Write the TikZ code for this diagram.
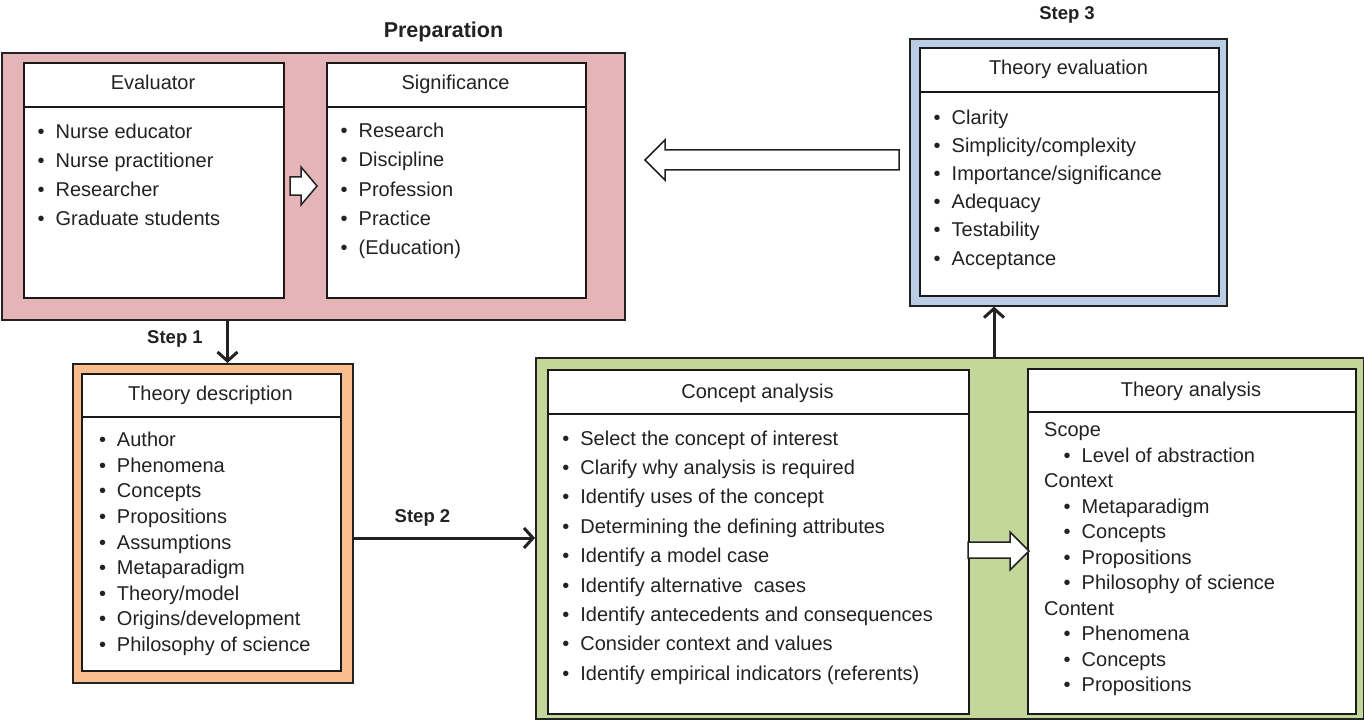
\documentclass[tikz,border=0pt]{standalone}
\usepackage{fontspec}
\setmainfont{Liberation Sans}
\usetikzlibrary{arrows.meta}
\definecolor{pinkbg}{HTML}{E5B4B6}
\definecolor{orangebg}{HTML}{FABD8E}
\definecolor{bluebg}{HTML}{B9CDE5}
\definecolor{greenbg}{HTML}{C4D79B}
\definecolor{ink}{HTML}{222222}
\newcommand{\bl}{\makebox[18pt][l]{\textbullet}}
\begin{document}
\begin{tikzpicture}[x=1pt,y=-1pt,
  outerbox/.style={draw=ink, line width=1.6pt, inner sep=0pt, anchor=north west},
  innerbox/.style={draw=black!90, fill=white, line width=2.4pt, inner sep=0pt, anchor=north west},
  hdr/.style={draw=black!90, line width=2pt},
  txt/.style={font=\fontsize{20}{24}\selectfont, text=ink, inner sep=0pt, anchor=base west},
  ttl/.style={font=\fontsize{20}{24}\selectfont, text=ink, inner sep=0pt, anchor=base},
  lbl/.style={font=\bfseries\fontsize{18.5}{22}\selectfont, text=ink, inner sep=0pt, anchor=base},
  flow/.style={line width=3pt, draw=ink, -{Straight Barb[length=9pt,width=20pt]}},
  hollow/.style={draw=ink, fill=white, line width=1.5pt, line join=miter}]
\useasboundingbox (0,0) rectangle (1364,722);

% ---------- Preparation ----------
\node[outerbox, fill=pinkbg, minimum width=623pt, minimum height=267pt] (prep) at (1,52) {};
\node[lbl, font=\bfseries\fontsize{21.5}{25}\selectfont] (preplbl) at (443.5,38) {Preparation};
\node[innerbox, minimum width=260pt, minimum height=235pt] (ev) at (23,62) {};
\draw[hdr, line width=2.6pt] ([yshift=-45pt]ev.north west) -- ([yshift=-45pt]ev.north east);
\node[ttl] (evt) at (153,89.3) {Evaluator};
\foreach [count=\i from 0] \t in {Nurse educator, Nurse practitioner, Researcher, Graduate students}
  \node[txt] (ev-\i) at (37.5, 138.3+29.15*\i) {\bl\t};

\node[innerbox, minimum width=259pt, minimum height=235pt] (sig) at (326,62) {};
\draw[hdr, line width=2.6pt] ([yshift=-45pt]sig.north west) -- ([yshift=-45pt]sig.north east);
\node[ttl] (sigt) at (455.5,89.3) {Significance};
\foreach [count=\i from 0] \t in {Research, Discipline, Profession, Practice, {(Education)}}
  \node[txt] (sig-\i) at (340.5, 137.7+29.3*\i) {\bl\t};

\draw[hollow] (290,177) -- (301,177) -- (301,167) -- (317,186) -- (301,205) -- (301,195) -- (290,195) -- cycle;

% ---------- Theory evaluation ----------
\node[outerbox, fill=bluebg, minimum width=317pt, minimum height=267pt] (evo) at (909,38) {};
\node[lbl] (s3lbl) at (1067,20) {Step 3};
\node[innerbox, minimum width=299pt, minimum height=248pt] (evi) at (919,47) {};
\draw[hdr] ([yshift=-45pt]evi.north west) -- ([yshift=-45pt]evi.north east);
\node[ttl] (evit) at (1068.5,75) {Theory evaluation};
\foreach [count=\i from 0] \t in {Clarity, Simplicity/complexity, Importance/significance, Adequacy, Testability, Acceptance}
  \node[txt] (evi-\i) at (933.5, 124.3+28.15*\i) {\bl\t};

\draw[hollow] (899,150) -- (665,150) -- (665,140) -- (645,160) -- (665,180) -- (665,170) -- (899,170) -- cycle;

% ---------- Theory description ----------
\node[outerbox, fill=orangebg, minimum width=280pt, minimum height=319pt] (desco) at (72,363) {};
\node[innerbox, minimum width=259pt, minimum height=297pt] (desc) at (81,373) {};
\draw[hdr] ([yshift=-44pt]desc.north west) -- ([yshift=-44pt]desc.north east);
\node[ttl] (desct) at (210.5,400) {Theory description};
\foreach [count=\i from 0] \t in {Author, Phenomena, Concepts, Propositions, Assumptions, Metaparadigm, Theory/model, Origins/development, Philosophy of science}
  \node[txt] (desc-\i) at (98.8, 446.7+25.6*\i) {\bl\t};

% ---------- Analysis (green) ----------
\node[outerbox, fill=greenbg, minimum width=828pt, minimum height=361pt] (green) at (535,357) {};
\node[innerbox, minimum width=421pt, minimum height=344pt] (conc) at (547,369) {};
\draw[hdr] ([yshift=-45pt]conc.north west) -- ([yshift=-45pt]conc.north east);
\node[ttl] (conct) at (757.5,398) {Concept analysis};
\foreach [count=\i from 0] \t in {Select the concept of interest, Clarify why analysis is required, Identify uses of the concept, Determining the defining attributes, Identify a model case, Identify alternative\ \ cases, Identify antecedents and consequences, Consider context and values, Identify empirical indicators (referents)}
  \node[txt] (conc-\i) at (562.2, 445+29.4*\i) {\bl\t};

\node[innerbox, minimum width=328pt, minimum height=345pt] (tan) at (1027,368) {};
\draw[hdr] ([yshift=-44pt]tan.north west) -- ([yshift=-44pt]tan.north east);
\node[ttl] (tant) at (1191,396) {Theory analysis};
\foreach \i/\t in {0/Scope, 2/Context, 7/Content}
  \node[txt] (tah-\i) at (1044, 436.7+25.5*\i) {\t};
\foreach \i/\t in {1/Level of abstraction, 3/Metaparadigm, 4/Concepts, 5/Propositions, 6/Philosophy of science, 8/Phenomena, 9/Concepts, 10/Propositions}
  \node[txt] (ta-\i) at (1063.5, 436.7+25.5*\i) {\bl\t};

\draw[hollow] (968,542) -- (1010,542) -- (1010,532) -- (1029,551) -- (1010,570) -- (1010,558) -- (968,558) -- cycle;

% ---------- Step connectors ----------
\coordinate (s1) at (227.5,0);
\coordinate (s2) at (0,538);
\coordinate (s3) at (994,0);
\draw[flow] (s1 |- prep.south) -- (s1 |- desco.north);
\node[lbl] (s1lbl) at (175,343) {Step 1};
\draw[flow] (desco.east |- s2) -- (green.west |- s2);
\node[lbl] (s2lbl) at (422.5,522) {Step 2};
\draw[flow] (s3 |- green.north) -- (s3 |- evo.south);
\end{tikzpicture}
\end{document}
